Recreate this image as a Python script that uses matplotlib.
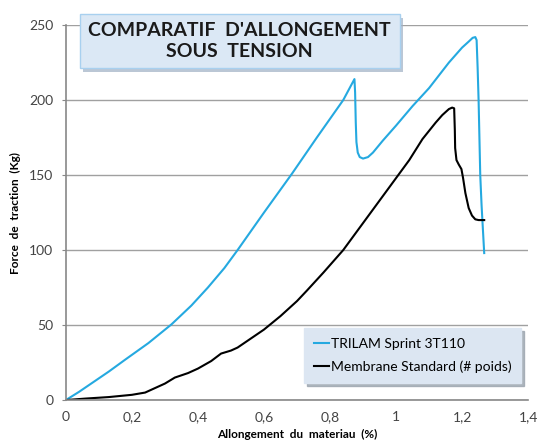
import matplotlib
matplotlib.use('Agg')
import matplotlib.pyplot as plt
from matplotlib.patches import Rectangle

plt.rcParams['font.family'] = ['Lato', 'DejaVu Sans']

# TRILAM Sprint 3T110 (blue)
trilam_x = [0, 0.04, 0.08, 0.13, 0.18, 0.25, 0.32, 0.38, 0.43, 0.48, 0.52,
            0.6, 0.685, 0.76, 0.84, 0.874, 0.876, 0.878, 0.88, 0.884, 0.89,
            0.9, 0.915, 0.93, 0.96, 1.0, 1.05, 1.1, 1.16, 1.2, 1.22, 1.232,
            1.24, 1.244, 1.247, 1.25, 1.255, 1.259, 1.267]
trilam_y = [0, 5.5, 11.5, 19, 27, 38, 50.5, 63, 75, 88, 100, 125, 151, 175,
            200, 214, 205, 185, 172, 165, 162, 161, 162, 165, 173, 183, 196,
            208, 225, 235, 239, 241.5, 242, 240, 222, 200, 150, 130, 98]

# Membrane Standard (black)
membrane_x = [0, 0.06, 0.13, 0.2, 0.24, 0.27, 0.3, 0.33, 0.37, 0.4, 0.44,
              0.47, 0.5, 0.52, 0.56, 0.6, 0.65, 0.7, 0.73, 0.78, 0.84, 0.9,
              0.94, 1.0, 1.04, 1.08, 1.12, 1.14, 1.16, 1.17, 1.176, 1.178,
              1.179, 1.183, 1.19, 1.198, 1.203, 1.21, 1.22, 1.23, 1.24, 1.25,
              1.267]
membrane_y = [0, 1, 2, 3.5, 5, 8, 11, 15, 18, 21, 26, 31, 33, 35, 41, 47, 56,
              66, 73, 85, 100, 118, 130, 148, 160, 174, 185, 190, 194, 195,
              194.5, 180, 168, 160, 157, 154, 148, 138, 128, 123, 120.5, 120,
              120]

x_ticks = [0, 0.2, 0.4, 0.6, 0.8, 1.0, 1.2, 1.4]
x_tick_labels = ['0', '0,2', '0,4', '0,6', '0,8', '1', '1,2', '1,4']
y_ticks = [0, 50, 100, 150, 200, 250]

fig = plt.figure(figsize=(5.4, 4.48), dpi=100)
ax = fig.add_axes([0.122, 0.107, 0.856, 0.837])

ax.plot(trilam_x, trilam_y, color='#25a9e0', lw=1.5, label='TRILAM Sprint 3T110')
ax.plot(membrane_x, membrane_y, color='black', lw=1.5,
        label='Membrane Standard (# poids)')

ax.set_xlim(0, 1.4)
ax.set_ylim(0, 250)
ax.set_xticks(x_ticks)
ax.set_xticklabels(x_tick_labels)
ax.set_yticks(y_ticks)
ax.tick_params(labelsize=10, colors='#444444', length=0, pad=8)
ax.tick_params(axis='y', length=3, color='#888888', pad=6)

ax.grid(axis='y', color='#a0a0a0', lw=1)
ax.set_axisbelow(True)
for s in ['top', 'right']:
    ax.spines[s].set_visible(False)
for s in ['left', 'bottom']:
    ax.spines[s].set_color('#888888')
    ax.spines[s].set_linewidth(1.2)

ax.set_xlabel('Allongement  du  materiau  (%)', fontsize=8.5,
              fontweight='bold', labelpad=4)
ax.set_ylabel('Force  de  traction  (Kg)', fontsize=8.5, fontweight='bold',
              labelpad=6)

leg = ax.legend(loc='lower right', bbox_to_anchor=(1.0, 0.027), fontsize=10,
                handlelength=1.1, handletextpad=0.1, fancybox=False,
                shadow={'color': '#9aa4ae', 'alpha': 0.8}, framealpha=1,
                borderpad=0.7, labelspacing=0.8)
leg.get_frame().set_facecolor('#dce6f2')
leg.get_frame().set_edgecolor('#dce6f2')

# title box with shadow
fig.patches.append(Rectangle((0.154, 0.840), 0.593, 0.1205,
                             transform=fig.transFigure, facecolor='#9fb0c4',
                             edgecolor='none', alpha=0.7))
fig.patches.append(Rectangle((0.148, 0.848), 0.593, 0.1205,
                             transform=fig.transFigure, facecolor='#dbe8f5',
                             edgecolor='#a8d0ef', lw=1))
fig.text(0.444, 0.908, "COMPARATIF  D'ALLONGEMENT\nSOUS  TENSION",
         ha='center', va='center', fontsize=14, fontweight='bold',
         color='#1a1a1a', linespacing=1.25)

fig.savefig('out.png', dpi=100)
